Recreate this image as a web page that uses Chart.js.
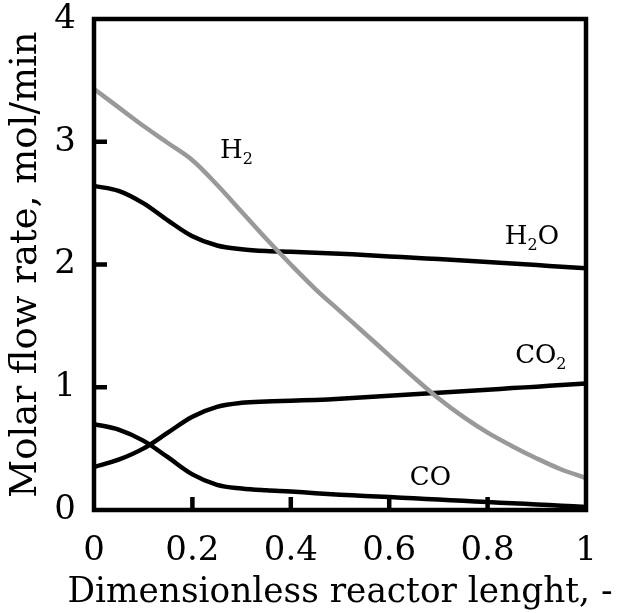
<!DOCTYPE html>
<html>
<head>
<meta charset="utf-8">
<script src="https://cdn.jsdelivr.net/npm/chart.js@4"></script>
<style>
  html, body { margin: 0; padding: 0; background: #fff; }
  #wrap { width: 617px; height: 613px; }
</style>
</head>
<body>
<div id="wrap"><canvas id="flowChart" width="617" height="613"></canvas></div>
<script>
// reactor position (dimensionless) and molar flows
const xPos = [0, 0.05, 0.1, 0.15, 0.2, 0.25, 0.3, 0.35, 0.4, 0.45, 0.5, 0.55, 0.6, 0.65, 0.7, 0.75, 0.8, 0.85, 0.9, 0.95, 1];
const h2  = [3.43, 3.28, 3.13, 2.99, 2.85, 2.65, 2.43, 2.21, 2.00, 1.80, 1.62, 1.44, 1.26, 1.08, 0.91, 0.76, 0.63, 0.52, 0.42, 0.33, 0.26];
const h2o = [2.64, 2.60, 2.50, 2.36, 2.23, 2.155, 2.125, 2.11, 2.103, 2.096, 2.088, 2.078, 2.066, 2.055, 2.044, 2.032, 2.02, 2.008, 1.995, 1.982, 1.97];
const co2 = [0.35, 0.41, 0.50, 0.63, 0.76, 0.84, 0.873, 0.884, 0.89, 0.897, 0.906, 0.918, 0.93, 0.943, 0.955, 0.968, 0.98, 0.993, 1.005, 1.018, 1.03];
const co  = [0.70, 0.655, 0.565, 0.43, 0.29, 0.205, 0.175, 0.16, 0.15, 0.137, 0.125, 0.115, 0.105, 0.095, 0.085, 0.075, 0.065, 0.055, 0.045, 0.035, 0.025];

const xTicks = [0, 0.2, 0.4, 0.6, 0.8, 1];
const yTicks = [0, 1, 2, 3, 4];
const xTitle = "Dimensionless reactor lenght, -";
const yTitle = "Molar flow rate, mol/min";

// curve labels: [main, subscript, tail, x, y] in data units
const curveLabels = [
  ["H", "2", "", 0.256, 2.92],
  ["H", "2", "O", 0.835, 2.22],
  ["CO", "2", "", 0.856, 1.25],
  ["CO", "", "", 0.642, 0.26]
];

const FONT = "'DejaVu Serif', 'Liberation Serif', serif";

function toPts(ys) {
  return ys.map((y, i) => ({ x: xPos[i], y: y }));
}

const frame = {
  id: "frame",
  afterDatasetsDraw(chart) {
    const ctx = chart.ctx;
    const a = chart.chartArea;
    const sx = chart.scales.x, sy = chart.scales.y;
    ctx.save();
    ctx.strokeStyle = "#000";
    ctx.lineWidth = 4.5;
    // inward ticks
    ctx.beginPath();
    yTicks.slice(1, -1).forEach(v => {
      const p = sy.getPixelForValue(v);
      ctx.moveTo(a.left, p); ctx.lineTo(a.left + 13, p);
    });
    xTicks.slice(1, -1).forEach(v => {
      const p = sx.getPixelForValue(v);
      ctx.moveTo(p, a.bottom); ctx.lineTo(p, a.bottom - 13);
    });
    ctx.stroke();
    ctx.strokeRect(a.left, a.top, a.right - a.left, a.bottom - a.top);

    // curve labels
    ctx.fillStyle = "#000";
    ctx.textBaseline = "middle";
    ctx.textAlign = "left";
    curveLabels.forEach(l => {
      let px = sx.getPixelForValue(l[3]);
      const py = sy.getPixelForValue(l[4]);
      ctx.font = "26px " + FONT;
      ctx.fillText(l[0], px, py);
      px += ctx.measureText(l[0]).width;
      if (l[1]) {
        ctx.font = "16px " + FONT;
        ctx.fillText(l[1], px, py + 8);
        px += ctx.measureText(l[1]).width;
      }
      if (l[2]) {
        ctx.font = "26px " + FONT;
        ctx.fillText(l[2], px, py);
      }
    });

    // x axis title, wider than the plot so drawn here
    ctx.font = "36px " + FONT;
    ctx.textAlign = "center";
    ctx.textBaseline = "alphabetic";
    ctx.fillText(xTitle, (a.left + a.right) / 2, 602, 545);
    ctx.restore();
  }
};

new Chart(document.getElementById("flowChart"), {
  type: "line",
  data: {
    datasets: [
      { label: "H2", data: toPts(h2), borderColor: "#999999" },
      { label: "H2O", data: toPts(h2o), borderColor: "#000" },
      { label: "CO2", data: toPts(co2), borderColor: "#000" },
      { label: "CO", data: toPts(co), borderColor: "#000" }
    ]
  },
  options: {
    responsive: false,
    animation: false,
    layout: { padding: { top: 19, right: 31, left: 0, bottom: 0 } },
    elements: {
      line: { borderWidth: 4.5, tension: 0.35, fill: false },
      point: { radius: 0 }
    },
    plugins: { legend: { display: false }, tooltip: { enabled: false } },
    scales: {
      x: {
        type: "linear", min: 0, max: 1,
        afterBuildTicks: s => { s.ticks = xTicks.map(v => ({ value: v })); },
        afterFit: s => { s.height = 103; s.paddingLeft = 0; s.paddingRight = 0; },
        grid: { display: false },
        border: { display: false },
        ticks: {
          color: "#000", padding: 13, maxRotation: 0,
          font: { family: FONT, size: 34 },
          callback: v => String(v)
        },
        title: { display: false }
      },
      y: {
        min: 0, max: 4,
        afterBuildTicks: s => { s.ticks = yTicks.map(v => ({ value: v })); },
        afterFit: s => { s.width = 94; s.paddingTop = 0; s.paddingBottom = 0; },
        grid: { display: false },
        border: { display: false },
        ticks: {
          color: "#000", padding: 10,
          font: { family: FONT, size: 34 }
        },
        title: {
          display: true, text: yTitle, color: "#000",
          font: { family: FONT, size: 37 }, padding: { bottom: 0 }
        }
      }
    }
  },
  plugins: [frame]
});
</script>
</body>
</html>
